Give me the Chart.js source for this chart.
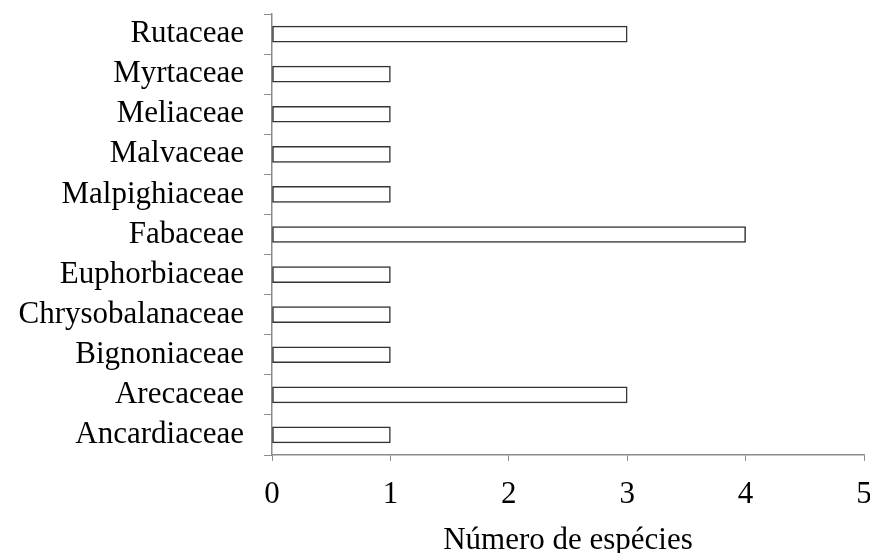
<!DOCTYPE html>
<html>
<head>
<meta charset="utf-8">
<script src="https://cdn.jsdelivr.net/npm/chart.js@4.4.1/dist/chart.umd.min.js"></script>
<style>
  html, body { margin: 0; padding: 0; background: #fff; }
  #wrap { width: 870px; height: 553px; }
</style>
</head>
<body>
<div id="wrap"><canvas id="chart" width="870" height="553"></canvas></div>
<script>
const families = ["Rutaceae", "Myrtaceae", "Meliaceae", "Malvaceae", "Malpighiaceae", "Fabaceae",
  "Euphorbiaceae", "Chrysobalanaceae", "Bignoniaceae", "Arecaceae", "Ancardiaceae"];
const speciesCount = [3, 1, 1, 1, 1, 4, 1, 1, 1, 3, 1];
const xTicks = [0, 1, 2, 3, 4, 5];
const xTitle = "Número de espécies";

const font = { family: "'Liberation Serif', 'Times New Roman', serif", size: 31 };
const axisColor = "#8c8c8c";

const ctx = document.getElementById("chart").getContext("2d");
new Chart(ctx, {
  type: "bar",
  data: {
    labels: families,
    datasets: [{
      data: speciesCount,
      backgroundColor: "#ffffff",
      borderColor: "#333333",
      borderWidth: 1.5,
      borderSkipped: false,
      barThickness: 16
    }]
  },
  options: {
    indexAxis: "y",
    responsive: false,
    animation: false,
    layout: { padding: { top: 14, left: 0, right: 0, bottom: 0 } },
    plugins: { legend: { display: false }, tooltip: { enabled: false } },
    scales: {
      x: {
        min: 0,
        max: 5,
        afterBuildTicks: axis => { axis.ticks = xTicks.map(v => ({ value: v })); },
        afterFit: axis => {
          axis.height = 98;
          axis.paddingLeft = 0;
          axis.paddingRight = 6;
        },
        ticks: { color: "#000", font: font, padding: 15, maxRotation: 0, autoSkip: false },
        grid: { drawOnChartArea: false, color: axisColor, tickLength: 6 },
        border: { color: axisColor, width: 1.5 },
        title: { display: true, text: xTitle, color: "#000", font: font, padding: { top: 0, bottom: -6 } }
      },
      y: {
        afterFit: axis => {
          axis.width = 272;
          axis.paddingTop = 0;
          axis.paddingBottom = 0;
        },
        ticks: { color: "#000", font: font, padding: 20, autoSkip: false },
        grid: { drawOnChartArea: false, color: axisColor, tickLength: 8, offset: true },
        border: { color: axisColor, width: 1.5 }
      }
    }
  }
});
</script>
</body>
</html>
